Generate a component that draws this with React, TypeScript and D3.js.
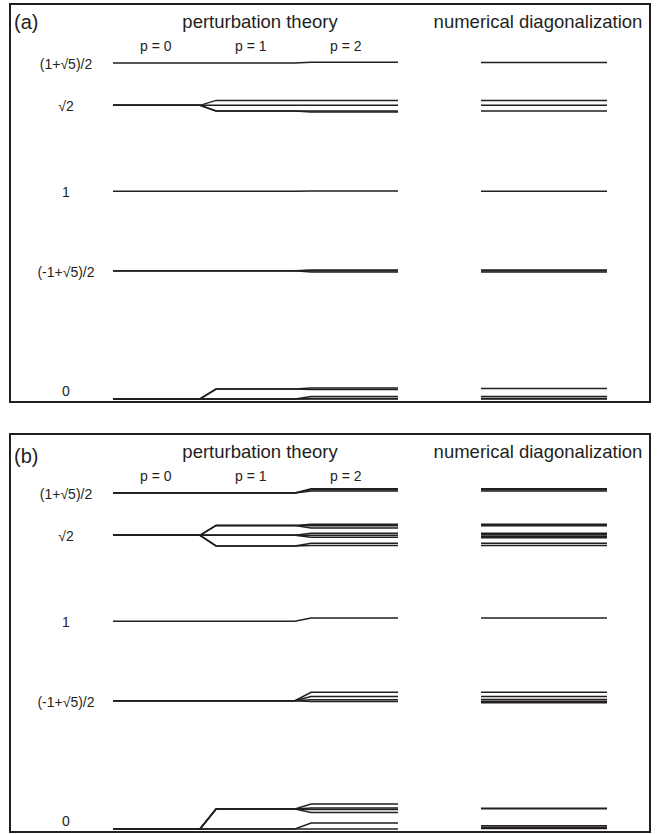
import React from 'react'
import * as d3 from 'd3'

const levelLabels = ['(1+√5)/2', '√2', '1', '(-1+√5)/2', '0']
const levelValues = [1.618, 1.414, 1, 0.618, 0]
const stageLabels = ['p = 0', 'p = 1', 'p = 2']

// panel (a): every track is [p = 0, p = 1, p = 2]
const tracksA = [
  [1.618, 1.618, 1.622],
  [1.414, 1.438, 1.438],
  [1.414, 1.414, 1.414],
  [1.414, 1.387, 1.387],
  [1.414, 1.387, 1.382],
  [1, 1, 1.002],
  [0.618, 0.618, 0.621],
  [0.618, 0.618, 0.617],
  [0.618, 0.618, 0.612],
  [0, 0.048, 0.053],
  [0, 0.048, 0.046],
  [0, 0, 0.012],
  [0, 0, 0.003],
  [0, 0, 0]
]
const numericA = [1.62, 1.438, 1.414, 1.387, 1, 0.621, 0.617, 0.612, 0.051, 0.012, 0.003, 0]

// panel (b)
const tracksB = [
  [1.618, 1.618, 1.639],
  [1.618, 1.618, 1.634],
  [1.618, 1.618, 1.628],
  [1.414, 1.462, 1.467],
  [1.414, 1.462, 1.46],
  [1.414, 1.462, 1.449],
  [1.414, 1.414, 1.424],
  [1.414, 1.414, 1.414],
  [1.414, 1.414, 1.405],
  [1.414, 1.363, 1.376],
  [1.414, 1.363, 1.365],
  [1, 1, 1.016],
  [0.618, 0.618, 0.658],
  [0.618, 0.618, 0.638],
  [0.618, 0.618, 0.622],
  [0.618, 0.618, 0.614],
  [0, 0.096, 0.12],
  [0, 0.096, 0.101],
  [0, 0.096, 0.094],
  [0, 0.096, 0.08],
  [0, 0, 0.029],
  [0, 0, 0]
]
const numericB = [
  1.639, 1.634, 1.628, 1.467, 1.46, 1.424, 1.417, 1.41, 1.403, 1.376, 1.365,
  1.016, 0.658, 0.638, 0.624, 0.615, 0.608, 0.1, 0.097, 0.016, 0.009, 0.002
]

const W = 660
const H = 834
const panelH = 398
const ink = '#231f20'
const font = '"Liberation Sans", Arial, Helvetica, sans-serif'

const stageX = d3.scaleLinear().domain([0, 3]).range([113, 398])
const numX = d3.scaleLinear().domain([0, 1]).range([481, 607])
const y = d3.scaleLinear().domain([0, 1.618]).range([396, 60])
const half = 0.085

const trackLine = d3
  .line<[number, number]>()
  .x(d => stageX(d[0]))
  .y(d => y(d[1]))

function trackPoints(t: number[]): [number, number][] {
  return [
    [0, t[0]],
    [1 - half, t[0]],
    [1 + half, t[1]],
    [2 - half, t[1]],
    [2 + half, t[2]],
    [3, t[2]]
  ]
}

function Panel({ top, tag, tracks, numeric, tagDy }) {
  return (
    <g transform={`translate(0,${top})`}>
      <rect x={10} y={1} width={640} height={panelH} fill="none" stroke={ink} strokeWidth={2} />
      <text x={14} y={26 + tagDy} fontSize={20} fontFamily={font} fill={ink}>
        {tag}
      </text>
      <text x={260} y={25} fontSize={18.5} fontFamily={font} fill={ink} textAnchor="middle">
        perturbation theory
      </text>
      <text x={538} y={25} fontSize={18.5} fontFamily={font} fill={ink} textAnchor="middle">
        numerical diagonalization
      </text>
      {stageLabels.map((s, i) => (
        <text
          key={s}
          x={stageX(i + 0.45)}
          y={48}
          fontSize={14}
          fontFamily={font}
          fill={ink}
          textAnchor="middle"
        >
          {s}
        </text>
      ))}
      {levelLabels.map((s, i) => (
        <text
          key={s}
          x={66}
          y={levelValues[i] === 0 ? y(levelValues[i]) - 3 : y(levelValues[i]) + 6}
          fontSize={14}
          fontFamily={font}
          fill={ink}
          textAnchor="middle"
        >
          {s}
        </text>
      ))}
      {tracks.map((t, i) => (
        <path
          key={i}
          d={trackLine(trackPoints(t))}
          fill="none"
          stroke={ink}
          strokeWidth={1.5}
        />
      ))}
      {numeric.map((v, i) => (
        <line
          key={i}
          x1={numX(0)}
          x2={numX(1)}
          y1={y(v)}
          y2={y(v)}
          stroke={ink}
          strokeWidth={1.5}
        />
      ))}
    </g>
  )
}

export default function App() {
  return (
    <svg
      width={W}
      height={H}
      style={{ position: 'absolute', left: 0, top: 0, background: '#fff' }}
    >
      <rect width={W} height={H} fill="#fff" />
      <Panel top={3} tag="(a)" tracks={tracksA} numeric={numericA} tagDy={0} />
      <Panel top={433} tag="(b)" tracks={tracksB} numeric={numericB} tagDy={4} />
    </svg>
  )
}
